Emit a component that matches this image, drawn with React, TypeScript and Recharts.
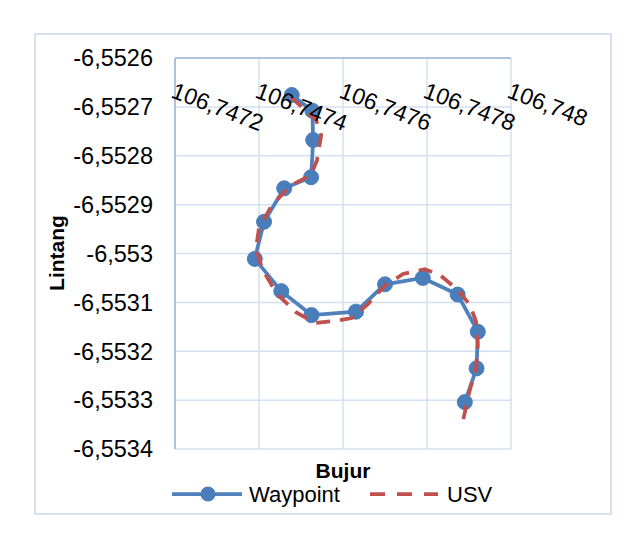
import React from 'react';
import { ScatterChart, Scatter, XAxis, YAxis, CartesianGrid } from 'recharts';

// Waypoint series (Bujur = longitude, Lintang = latitude)
const waypointLon = [106.747478, 106.747527, 106.747529, 106.747524, 106.74746, 106.747412, 106.74739, 106.747453, 106.747525, 106.747631, 106.7477, 106.74779, 106.747873, 106.747921, 106.747918, 106.74789];
const waypointLat = [-6.5526757, -6.5527078, -6.5527678, -6.552844, -6.5528666, -6.552935, -6.553011, -6.553077, -6.553126, -6.553119, -6.553063, -6.55305, -6.553084, -6.55316, -6.553235, -6.553304];

// USV track
const usvLon = [106.747476, 106.747536, 106.747548, 106.747538, 106.747524, 106.747474, 106.747431, 106.7474, 106.747393, 106.747407, 106.747441, 106.747488, 106.747533, 106.747581, 106.747621, 106.74766, 106.747698, 106.747743, 106.747795, 106.747831, 106.747874, 106.747902, 106.747917, 106.747921, 106.747917, 106.747902, 106.747886];
const usvLat = [-6.55268, -6.552727, -6.552758, -6.552809, -6.552839, -6.552862, -6.552901, -6.552948, -6.552989, -6.55303, -6.553081, -6.55312, -6.553142, -6.553138, -6.553132, -6.553103, -6.553067, -6.553042, -6.553032, -6.553044, -6.553075, -6.553105, -6.55314, -6.553187, -6.553234, -6.553279, -6.553341];

const xTicks = [106.7472, 106.7474, 106.7476, 106.7478, 106.748];
const yTicks = [-6.5534, -6.5533, -6.5532, -6.5531, -6.553, -6.5529, -6.5528, -6.5527, -6.5526];

const xTitle = 'Bujur';
const yTitle = 'Lintang';
const seriesNames = ['Waypoint', 'USV'];

const waypointData = waypointLon.map((x, i) => ({ x, y: waypointLat[i] }));
const usvData = usvLon.map((x, i) => ({ x, y: usvLat[i] }));

const FONT = '"Liberation Sans", Arial, sans-serif';
const fmt = (v: number) => String(v).replace('.', ',');

const BLUE = '#4F81BD';
const RED = '#C0504D';
const GRID = '#D3DFEE';
const AXIS = '#9DB7D9';

const XTick = (props: any) => {
  const { x, payload } = props;
  const px = Number(x) - 5;
  const py = 97;
  return (
    <text x={px} y={py} transform={`rotate(21, ${px}, ${py})`} fontSize={23} fill="#000" fontFamily={FONT} textAnchor="start">
      {fmt(payload.value)}
    </text>
  );
};

const WaypointDot = (props: any) => {
  const { cx, cy } = props;
  if (cx == null || cy == null) return <g />;
  return <circle cx={cx} cy={cy} r={7.5} fill="#4A7EBB" stroke="#4A7EBB" strokeWidth={1} />;
};

const NoDot = () => <g />;

export default function App() {
  return (
    <div style={{ position: 'absolute', left: 0, top: 0, width: 638, height: 539, background: '#fff' }}>
      <svg width={638} height={539} style={{ position: 'absolute', left: 0, top: 0 }}>
        <rect x={35} y={34} width={576} height={480} fill="#fff" stroke="#C9D8EC" strokeWidth={1.5} />
      </svg>
      <div style={{ position: 'absolute', left: 0, top: 0 }}>
        <ScatterChart width={638} height={539} margin={{ top: 28, right: 127, bottom: 90, left: 0 }}>
          <CartesianGrid stroke={GRID} strokeWidth={1.5} />
          <XAxis
            type="number"
            dataKey="x"
            orientation="top"
            height={30}
            domain={[106.7472, 106.748]}
            ticks={xTicks}
            interval={0}
            tick={<XTick />}
            tickLine={false}
            axisLine={{ stroke: AXIS, strokeWidth: 1.5 }}
            allowDataOverflow
          />
          <YAxis
            type="number"
            dataKey="y"
            width={175}
            domain={[-6.5534, -6.5526]}
            ticks={yTicks}
            interval={0}
            tickFormatter={fmt}
            tick={{ fill: '#000', fontSize: 23.5, fontFamily: FONT }}
            tickLine={false}
            tickSize={0}
            tickMargin={22}
            axisLine={{ stroke: AXIS, strokeWidth: 1.5 }}
            allowDataOverflow
          />
          <Scatter
            name={seriesNames[0]}
            data={waypointData}
            line={{ stroke: BLUE, strokeWidth: 3.75 }}
            lineType="joint"
            shape={<WaypointDot />}
            isAnimationActive={false}
          />
          <Scatter
            name={seriesNames[1]}
            data={usvData}
            line={{ stroke: RED, strokeWidth: 3.75, strokeDasharray: '14 10' }}
            lineType="joint"
            shape={<NoDot />}
            isAnimationActive={false}
          />
        </ScatterChart>
      </div>
      <svg width={638} height={539} style={{ position: 'absolute', left: 0, top: 0, pointerEvents: 'none' }}>
        <text x={56} y={253} transform="rotate(-90, 56, 253)" textAnchor="middle" dominantBaseline="central" fontSize={21} fontWeight="bold" fontFamily={FONT} fill="#000">
          {yTitle}
        </text>
        <text x={343} y={470} textAnchor="middle" dominantBaseline="central" fontSize={21} fontWeight="bold" fontFamily={FONT} fill="#000">
          {xTitle}
        </text>
        <line x1={172} y1={494} x2={242} y2={494} stroke={BLUE} strokeWidth={3.75} />
        <circle cx={208} cy={494} r={7.5} fill="#4A7EBB" />
        <text x={249} y={494} dominantBaseline="central" fontSize={22} fontFamily={FONT} fill="#000">
          {seriesNames[0]}
        </text>
        <line x1={370} y1={494} x2={438} y2={494} stroke={RED} strokeWidth={3.75} strokeDasharray="15 12" />
        <text x={447} y={494} dominantBaseline="central" fontSize={22} fontFamily={FONT} fill="#000">
          {seriesNames[1]}
        </text>
      </svg>
    </div>
  );
}
